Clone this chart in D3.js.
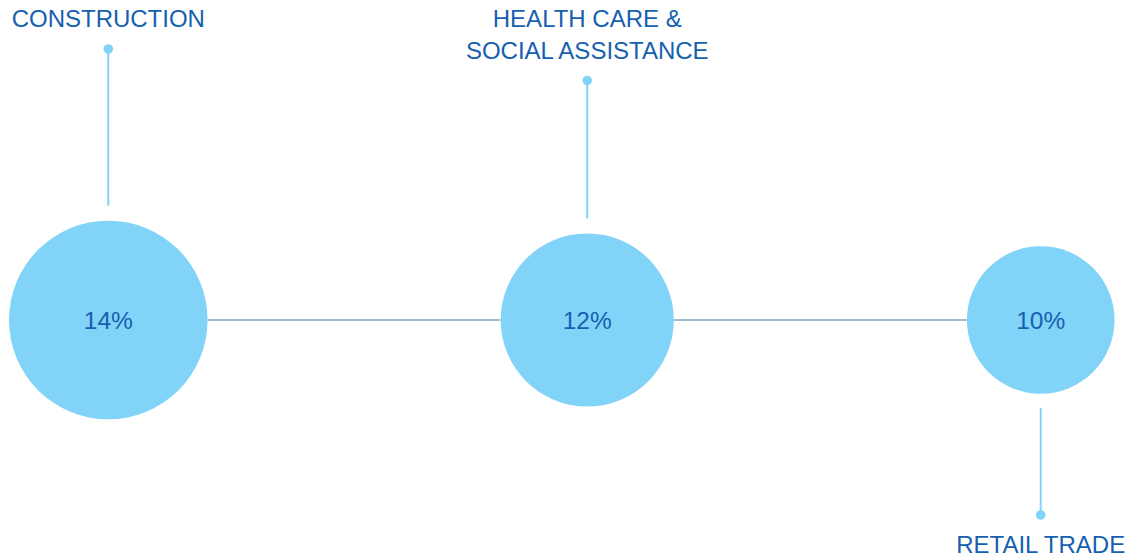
<!DOCTYPE html>
<html>
<head>
<meta charset="utf-8">
<script src="https://cdn.jsdelivr.net/npm/d3@7"></script>
<style>
  html, body { margin: 0; padding: 0; background: #ffffff; }
  svg { display: block; }
  text { font-family: "Liberation Sans", Arial, sans-serif; }
</style>
</head>
<body>
<svg id="chart" width="1131" height="560"></svg>
<script>
const categories = ["CONSTRUCTION", "HEALTH CARE &\nSOCIAL ASSISTANCE", "RETAIL TRADE"];
const values = [14, 12, 10];
const labelSides = ["top", "top", "bottom"];
const valueLabels = ["14%", "12%", "10%"];

const W = 1131, H = 560;
const svg = d3.select("#chart");

const rScale = d3.scaleLinear().domain([10, 14]).range([73.8, 99.3]);
const cy = 320;
const leftX = 9, rightX = 1114.5;

// equal gaps between circles
const radii = values.map(v => rScale(v));
const totalD = d3.sum(radii) * 2;
const gap = (rightX - leftX - totalD) / (values.length - 1);
const cxs = [];
let cur = leftX;
radii.forEach((r, i) => { cxs.push(cur + r); cur += 2 * r + gap; });

const textColor = "#1660b0";
const circleColor = "#81d4f7";
const connColor = "#9dbdcc";

// connectors
for (let i = 0; i < values.length - 1; i++) {
  svg.append("line")
    .attr("x1", cxs[i] + radii[i]).attr("x2", cxs[i + 1] - radii[i + 1])
    .attr("y1", cy).attr("y2", cy)
    .attr("stroke", connColor).attr("stroke-width", 2);
}

// circles
svg.selectAll("circle.bubble").data(values).enter().append("circle")
  .attr("class", "bubble")
  .attr("cx", (d, i) => cxs[i]).attr("cy", cy)
  .attr("r", d => rScale(d))
  .attr("fill", circleColor);

// value labels
svg.selectAll("text.val").data(valueLabels).enter().append("text")
  .attr("class", "val")
  .attr("x", (d, i) => cxs[i]).attr("y", cy + 9)
  .attr("text-anchor", "middle")
  .attr("font-size", 24.5)
  .attr("fill", textColor)
  .text(d => d);

// leaders and category labels
const dotY = { top: [49, 80], bottom: 515 };
categories.forEach((c, i) => {
  const r = radii[i];
  const lines = c.split("\n");
  if (labelSides[i] === "top") {
    const yDot = 49 + (lines.length - 1) * 31.5;
    const yEnd = cy - r - 15;
    svg.append("line").attr("x1", cxs[i]).attr("x2", cxs[i])
      .attr("y1", yDot).attr("y2", yEnd)
      .attr("stroke", circleColor).attr("stroke-width", 2);
    svg.append("circle").attr("cx", cxs[i]).attr("cy", yDot).attr("r", 4.8).attr("fill", circleColor);
    lines.forEach((l, j) => {
      svg.append("text").attr("x", cxs[i]).attr("y", 27 + j * 32)
        .attr("text-anchor", "middle").attr("font-size", 24)
        .attr("fill", textColor).text(l);
    });
  } else {
    const yDot = 515;
    const yStart = cy + r + 14;
    svg.append("line").attr("x1", cxs[i]).attr("x2", cxs[i])
      .attr("y1", yStart).attr("y2", yDot)
      .attr("stroke", circleColor).attr("stroke-width", 2);
    svg.append("circle").attr("cx", cxs[i]).attr("cy", yDot).attr("r", 4.8).attr("fill", circleColor);
    lines.forEach((l, j) => {
      svg.append("text").attr("x", cxs[i]).attr("y", 553 + j * 32)
        .attr("text-anchor", "middle").attr("font-size", 24)
        .attr("fill", textColor).text(l);
    });
  }
});
</script>
</body>
</html>
